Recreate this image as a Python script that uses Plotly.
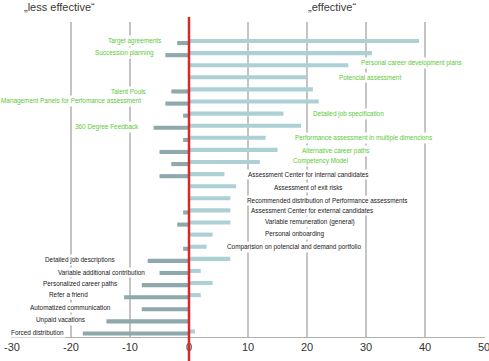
import plotly.graph_objects as go

# ---- data (top to bottom) ----
categories = [
    "Target agreements", "Succession planning", "Personal career development plans",
    "Potencial assessment", "Talent Pools", "Management Panels for Perfomance assessment",
    "Detailed job specification", "360 Degree Feedback",
    "Performance assessment in multiple dimencions", "Alternative career paths",
    "Competency Model", "Assessment Center for internal candidates",
    "Assessment of exit risks", "Recommended distribution of Performance assessments",
    "Assessment Center for external candidates", "Variable remuneration (general)",
    "Personal onboarding", "Comparision on potencial and demand portfolio",
    "Detailed job descriptions", "Variable additional contribution",
    "Personalized career paths", "Refer a friend", "Automatized communication",
    "Unpaid vacations", "Forced distribution",
]
effective = [39, 31, 27, 20, 21, 22, 16, 19, 13, 15, 12, 6, 8, 7, 7, 7, 4, 3, 7, 2, 4, 2, 0, 0, 1]
less_effective = [-2, -4, 0, 0, -3, -4, -1, -6, -1, -5, -3, -5, 0, 0, -1, -2, 0, -1, -7, -5, -8, -11, -8, -14, -18]
x_ticks = [-30, -20, -10, 0, 10, 20, 30, 40, 50]

# ---- label layout (style, not data) ----
label_green = [True] * 11 + [False] * 14
label_side = ["L", "L", "R", "R", "L", "L", "R", "L", "R", "R", "R", "R", "R", "R", "R", "R", "R", "R",
              "L", "L", "L", "L", "L", "L", "L"]
label_anchor = [-4.4, -5.6, 28.8, 25.1, -6.9, -7.8, 20.7, -8.1, 17.6, 18.8, 17.3, 9.7, 14.1, 9.5,
                10.2, 12.5, 12.5, 6.1, -12.2, -7.1, -11.9, -16.8, -12.9, -17.3, -20.8]
label_yshift = [1, 1, 3, 1, -1.6, 1.5, 0.6, 0, 1, 0, 2, 1, 0, -1, 1, 1.5, 1.5, 0.7,
                0, -1, 0, 2, 1, 0, 0]

LIGHT = "#acd0d4"
DARK = "#8ea8ac"
GREEN = "#5cc93a"

fig = go.Figure()
fig.add_trace(go.Bar(y=categories, x=effective, orientation="h", marker_color=LIGHT,
                     marker_line_width=0, width=0.34, offset=-0.25, hoverinfo="skip"))
fig.add_trace(go.Bar(y=categories, x=less_effective, orientation="h", marker_color=DARK,
                     marker_line_width=0, width=0.34, offset=-0.08, hoverinfo="skip"))

annotations = []
for i, cat in enumerate(categories):
    left = label_side[i] == "L"
    annotations.append(dict(
        x=label_anchor[i], y=cat, xref="x", yref="y", text=cat, showarrow=False,
        xanchor="right" if left else "left", yanchor="middle", yshift=label_yshift[i],
        font=dict(family="Arial", size=6.4, color=GREEN if label_green[i] else "#1a1a1a"),
        bgcolor="white", borderpad=1,
    ))

W, H = 489, 361
ml, mr, mt, mb = 11, 4, 22, 24
pw, ph = W - ml - mr, H - mt - mb
for txt, px in (("„less effective“", 59), ("„effective“", 332)):
    annotations.append(dict(x=(px - ml) / pw, y=(H - mb - 7) / ph, xref="paper", yref="paper",
                            text=txt, showarrow=False, xanchor="center", yanchor="middle",
                            font=dict(family="Arial", size=11, color="#3a3a3a")))

fig.update_layout(
    template="none",
    width=W, height=H, margin=dict(l=ml, r=mr, t=mt, b=mb),
    paper_bgcolor="white", plot_bgcolor="white", showlegend=False,
    barmode="overlay", annotations=annotations,
    xaxis=dict(range=[-30.17, 50.17], tickvals=x_ticks, ticktext=[str(v) for v in x_ticks],
               showgrid=True, gridcolor="#c4c4c4", gridwidth=1.5, zeroline=False,
               showline=True, linecolor="#b0b0b0", linewidth=1, ticks="",
               ticklabeloverflow="allow", automargin=False,
               tickfont=dict(family="Arial", size=11, color="#333")),
    yaxis=dict(type="category", categoryorder="array", categoryarray=categories,
               range=[24.38, -1.65], showticklabels=False, showgrid=False, zeroline=False,
               showline=False, ticks="", automargin=False),
    shapes=[dict(type="line", xref="x", yref="paper", x0=0, x1=0,
                 y0=-mb / ph, y1=1 + 5 / ph, line=dict(color="#d42a2a", width=2.5))],
)

fig.write_html("out.html")
